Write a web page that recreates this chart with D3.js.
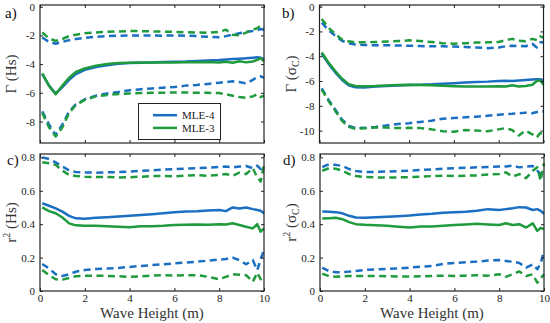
<!DOCTYPE html>
<html><head><meta charset="utf-8">
<script src="https://cdn.jsdelivr.net/npm/d3@7"></script>
<style>
body{margin:0;background:#fff;}
svg text{font-family:'Liberation Serif','Times New Roman',serif !important;}
</style></head>
<body><svg id="c" width="550" height="323"></svg>
<script>
const waveHeight = [0.1,0.4,0.7,1.0,1.3,1.6,2,2.5,3,3.5,4,4.5,5,5.5,6,6.5,7,7.5,8,8.3,8.6,8.9,9.2,9.5,9.7,9.85,10];
const seriesNames = ["MLE-4","MLE-3"];

// Panel a: Gamma (Hs)
const aMLE4 = [-4.7,-5.5,-6.05,-5.6,-5.1,-4.7,-4.4,-4.2,-4.08,-3.98,-3.92,-3.9,-3.88,-3.86,-3.84,-3.82,-3.78,-3.75,-3.72,-3.68,-3.65,-3.62,-3.6,-3.55,-3.53,-3.56,-3.65];
const aMLE3 = [-4.65,-5.5,-6.1,-5.5,-4.95,-4.55,-4.3,-4.12,-4.0,-3.93,-3.9,-3.88,-3.88,-3.88,-3.88,-3.87,-3.87,-3.86,-3.88,-3.84,-3.9,-3.8,-3.88,-3.82,-3.7,-3.58,-3.8];
const aMLE4Up = [-2.15,-2.45,-2.58,-2.45,-2.33,-2.25,-2.17,-2.1,-2.05,-2.02,-2.0,-2.0,-2.0,-2.02,-2.0,-2.02,-2.05,-2.1,-2.12,-2.05,-1.95,-1.85,-1.75,-1.7,-1.65,-1.55,-1.6];
const aMLE3Up = [-1.8,-2.2,-2.38,-2.25,-2.05,-1.95,-1.85,-1.8,-1.75,-1.72,-1.7,-1.7,-1.72,-1.74,-1.75,-1.78,-1.8,-1.82,-1.75,-1.6,-1.95,-2.0,-1.8,-1.6,-1.5,-1.3,-1.4];
const aMLE4Lo = [-7.3,-8.2,-8.95,-8.2,-7.3,-6.8,-6.45,-6.2,-6.05,-5.95,-5.82,-5.75,-5.7,-5.65,-5.6,-5.5,-5.45,-5.38,-5.3,-5.25,-5.2,-5.25,-5.35,-5.1,-4.9,-4.85,-4.95];
const aMLE3Lo = [-7.4,-8.4,-9.05,-8.4,-7.4,-6.85,-6.5,-6.25,-6.15,-6.08,-6.05,-6.02,-6.0,-6.0,-5.98,-5.98,-6.0,-6.0,-6.02,-6.1,-6.2,-6.3,-6.35,-6.25,-6.1,-6.3,-6.2];

// Panel b: Gamma (sigma_C)
const bMLE4 = [-3.8,-4.6,-5.3,-5.9,-6.35,-6.5,-6.52,-6.45,-6.4,-6.36,-6.33,-6.3,-6.27,-6.22,-6.18,-6.13,-6.08,-6.05,-6.0,-5.98,-6.0,-5.95,-5.92,-5.88,-5.85,-5.85,-5.95];
const bMLE3 = [-3.7,-4.5,-5.2,-5.8,-6.25,-6.4,-6.42,-6.4,-6.36,-6.33,-6.3,-6.32,-6.35,-6.38,-6.42,-6.45,-6.45,-6.45,-6.42,-6.45,-6.35,-6.45,-6.4,-6.3,-6.0,-5.95,-6.3];
const bMLE4Up = [-1.3,-1.9,-2.35,-2.75,-2.95,-3.05,-3.1,-3.12,-3.12,-3.14,-3.15,-3.18,-3.2,-3.2,-3.22,-3.25,-3.3,-3.35,-3.3,-3.2,-3.15,-3.18,-3.2,-3.0,-3.3,-2.9,-2.85];
const bMLE3Up = [-1.0,-1.7,-2.2,-2.65,-2.8,-2.88,-2.88,-2.85,-2.82,-2.78,-2.72,-2.78,-2.85,-2.95,-3.0,-2.95,-2.9,-2.88,-2.85,-2.72,-2.6,-2.75,-2.8,-2.6,-2.7,-2.4,-2.5];
const bMLE4Lo = [-6.6,-7.5,-8.3,-9.1,-9.6,-9.8,-9.78,-9.7,-9.58,-9.47,-9.4,-9.3,-9.2,-9.05,-8.98,-8.93,-8.88,-8.8,-8.72,-8.68,-8.65,-8.6,-8.55,-8.6,-8.5,-8.4,-8.45];
const bMLE3Lo = [-6.7,-7.6,-8.4,-9.2,-9.7,-9.85,-9.82,-9.75,-9.75,-9.8,-9.78,-9.8,-9.9,-10.05,-10.1,-9.95,-10.0,-10.05,-9.9,-9.8,-9.95,-10.4,-10.0,-10.3,-10.55,-10.2,-10.3];

// Panel c: r^2 (Hs)
const cMLE4 = [0.525,0.51,0.495,0.475,0.45,0.435,0.432,0.438,0.442,0.446,0.45,0.455,0.46,0.466,0.472,0.476,0.478,0.482,0.485,0.478,0.5,0.494,0.5,0.49,0.485,0.48,0.465];
const cMLE3 = [0.5,0.478,0.465,0.44,0.405,0.393,0.39,0.39,0.388,0.385,0.382,0.387,0.388,0.39,0.395,0.397,0.398,0.397,0.4,0.398,0.405,0.395,0.385,0.375,0.4,0.355,0.375];
const cMLE4Up = [0.8,0.79,0.77,0.745,0.722,0.712,0.71,0.708,0.71,0.712,0.715,0.72,0.722,0.726,0.73,0.732,0.735,0.738,0.742,0.745,0.74,0.745,0.748,0.735,0.75,0.73,0.745];
const cMLE3Up = [0.77,0.765,0.755,0.72,0.695,0.688,0.684,0.682,0.682,0.68,0.681,0.684,0.688,0.688,0.687,0.69,0.693,0.69,0.695,0.7,0.69,0.708,0.7,0.735,0.68,0.655,0.755];
const cMLE4Lo = [0.162,0.135,0.1,0.09,0.1,0.115,0.126,0.132,0.134,0.138,0.144,0.15,0.155,0.16,0.165,0.17,0.175,0.182,0.188,0.192,0.2,0.185,0.16,0.185,0.125,0.19,0.245];
const cMLE3Lo = [0.125,0.095,0.07,0.068,0.078,0.088,0.092,0.092,0.09,0.088,0.085,0.088,0.092,0.094,0.092,0.094,0.095,0.085,0.07,0.085,0.1,0.098,0.095,0.055,0.11,0.07,0.085];

// Panel d: r^2 (sigma_C)
const dMLE4 = [0.476,0.475,0.472,0.465,0.45,0.44,0.438,0.442,0.445,0.448,0.452,0.458,0.462,0.468,0.472,0.475,0.48,0.49,0.485,0.49,0.495,0.502,0.5,0.485,0.49,0.48,0.462];
const dMLE3 = [0.434,0.436,0.438,0.43,0.412,0.4,0.396,0.394,0.39,0.385,0.38,0.386,0.386,0.39,0.395,0.398,0.402,0.398,0.395,0.405,0.395,0.4,0.38,0.405,0.36,0.378,0.37];
const dMLE4Up = [0.742,0.758,0.755,0.748,0.73,0.718,0.712,0.713,0.715,0.717,0.72,0.724,0.728,0.732,0.735,0.737,0.74,0.742,0.745,0.745,0.75,0.74,0.745,0.748,0.72,0.7,0.72];
const dMLE3Up = [0.72,0.735,0.732,0.72,0.7,0.688,0.682,0.68,0.68,0.68,0.681,0.684,0.688,0.69,0.688,0.69,0.692,0.698,0.7,0.71,0.685,0.7,0.675,0.72,0.74,0.66,0.765];
const dMLE4Lo = [0.14,0.118,0.112,0.112,0.116,0.12,0.126,0.13,0.132,0.135,0.14,0.145,0.15,0.162,0.168,0.172,0.176,0.182,0.185,0.18,0.175,0.168,0.14,0.16,0.13,0.165,0.24];
const dMLE3Lo = [0.104,0.088,0.085,0.088,0.09,0.09,0.09,0.09,0.088,0.087,0.087,0.088,0.09,0.092,0.09,0.092,0.095,0.092,0.1,0.085,0.1,0.117,0.09,0.1,0.05,0.075,0.1];

const xTicks = [0,2,4,6,8,10];
const yTicksGamma1 = [-8,-6,-4,-2,0];
const yTicksGamma2 = [-10,-8,-6,-4,-2,0];
const yTicksR2 = [0,0.2,0.4,0.6,0.8];

const BLUE = "#1b6fc2", GREEN = "#1f9a3c";
const FONT = "'Liberation Serif', 'Times New Roman', serif";
const svg = d3.select("#c");

const panels = [
  {lab:"a)", x0:40, x1:264, y0:5, y1:143, dom:[-9.5,0.12], ticks:yTicksGamma1, fmt:d=>String(d),
   s:[aMLE4,aMLE3,aMLE4Up,aMLE3Up,aMLE4Lo,aMLE3Lo], ylab:"Hs", r2:false, labX:5, labY:18, legend:true, xlabel:false},
  {lab:"b)", x0:319.5, x1:543.5, y0:5, y1:143, dom:[-11,0.13], ticks:yTicksGamma2, fmt:d=>String(d),
   s:[bMLE4,bMLE3,bMLE4Up,bMLE3Up,bMLE4Lo,bMLE3Lo], ylab:"σC", r2:false, labX:282, labY:18, xlabel:false},
  {lab:"c)", x0:40, x1:264, y0:154, y1:291, dom:[0,0.82], ticks:yTicksR2, fmt:d=>d===0?"0":d3.format(".1f")(d),
   s:[cMLE4,cMLE3,cMLE4Up,cMLE3Up,cMLE4Lo,cMLE3Lo], ylab:"Hs", r2:true, labX:7, labY:165, xlabel:true},
  {lab:"d)", x0:320, x1:544, y0:154, y1:291, dom:[0,0.82], ticks:yTicksR2, fmt:d=>d===0?"0":d3.format(".1f")(d),
   s:[dMLE4,dMLE3,dMLE4Up,dMLE3Up,dMLE4Lo,dMLE3Lo], ylab:"σC", r2:true, labX:283, labY:165, xlabel:true}
];

panels.forEach(p=>{
  const x = d3.scaleLinear().domain([0,10]).range([p.x0,p.x1]);
  const y = d3.scaleLinear().domain(p.dom).range([p.y1,p.y0]);
  const g = svg.append("g");
  const line = d3.line().x((d,i)=>x(waveHeight[i])).y(d=>y(d));
  const cols = [BLUE,GREEN,BLUE,GREEN,BLUE,GREEN];
  [2,3,4,5,0,1].forEach(k=>{
    g.append("path").datum(p.s[k]).attr("d",line).attr("fill","none")
     .attr("stroke",cols[k]).attr("stroke-width",2.5)
     .attr("stroke-dasharray",k>=2?"7,4.5":null)
     .attr("stroke-linejoin","round");
  });
  const tl = -3;
  const ax = g.append("g").attr("transform",`translate(0,${p.y1})`).call(d3.axisBottom(x).tickValues(xTicks).tickSize(tl).tickPadding(3).tickFormat(p.xlabel?d3.format("d"):()=>""));
  const axT = g.append("g").attr("transform",`translate(0,${p.y0})`).call(d3.axisTop(x).tickValues(xTicks).tickSize(tl).tickFormat(()=>""));
  const ay = g.append("g").attr("transform",`translate(${p.x0},0)`).call(d3.axisLeft(y).tickValues(p.ticks).tickSize(tl).tickPadding(5).tickFormat(p.fmt));
  const ayR = g.append("g").attr("transform",`translate(${p.x1},0)`).call(d3.axisRight(y).tickValues(p.ticks).tickSize(tl).tickFormat(()=>""));
  [ax,axT,ay,ayR].forEach(a=>{
    a.attr("font-family",null).style("font-family",FONT);
    a.select(".domain").remove();
    a.selectAll("line").attr("stroke","#222").attr("stroke-width",1);
    a.selectAll("text").style("font-family",FONT).attr("font-size",11).attr("fill","#222");
  });
  ax.selectAll("text").attr("dy","0.75em");
  g.append("rect").attr("x",p.x0).attr("y",p.y0).attr("width",p.x1-p.x0).attr("height",p.y1-p.y0)
   .attr("fill","none").attr("stroke","#222").attr("stroke-width",1.2);
  svg.append("text").style("font-family",FONT).attr("x",p.labX).attr("y",p.labY).attr("font-size",15).attr("fill","#111").text(p.lab);
  const cy = (p.y0+p.y1)/2;
  const lx = p.x0-24;
  const t = svg.append("text").style("font-family",FONT).attr("transform",`translate(${lx},${cy}) rotate(-90)`)
    .attr("text-anchor","middle").attr("font-size",15).attr("fill","#333");
  if(p.r2){ t.append("tspan").text("r"); t.append("tspan").attr("font-size",10).attr("dy",-6).text("2"); t.append("tspan").attr("dy",6).text(" ("); }
  else { t.append("tspan").text("Γ ("); }
  if(p.ylab==="Hs"){ t.append("tspan").text("Hs)"); }
  else { t.append("tspan").text("σ"); t.append("tspan").attr("font-size",10).attr("dy",3).text("C"); t.append("tspan").attr("dy",-3).text(")"); }
  if(p.xlabel){
    svg.append("text").style("font-family",FONT).attr("x",(p.x0+p.x1)/2).attr("y",318).attr("text-anchor","middle")
      .attr("font-size",15).attr("fill","#333").text("Wave Height (m)");
  }
  if(p.legend){
    const lg = svg.append("g");
    lg.append("rect").attr("x",138.5).attr("y",103.5).attr("width",82).attr("height",36).attr("fill","#fff").attr("stroke","#222").attr("stroke-width",1);
    seriesNames.forEach((nm,i)=>{
      const yy = 115.2 + i*12.7;
      lg.append("line").attr("x1",153).attr("x2",177).attr("y1",yy).attr("y2",yy).attr("stroke",i?GREEN:BLUE).attr("stroke-width",2.5);
      lg.append("text").style("font-family",FONT).attr("x",182).attr("y",yy+4).attr("font-size",11).attr("fill","#222").text(nm);
    });
  }
});
</script></body></html>
